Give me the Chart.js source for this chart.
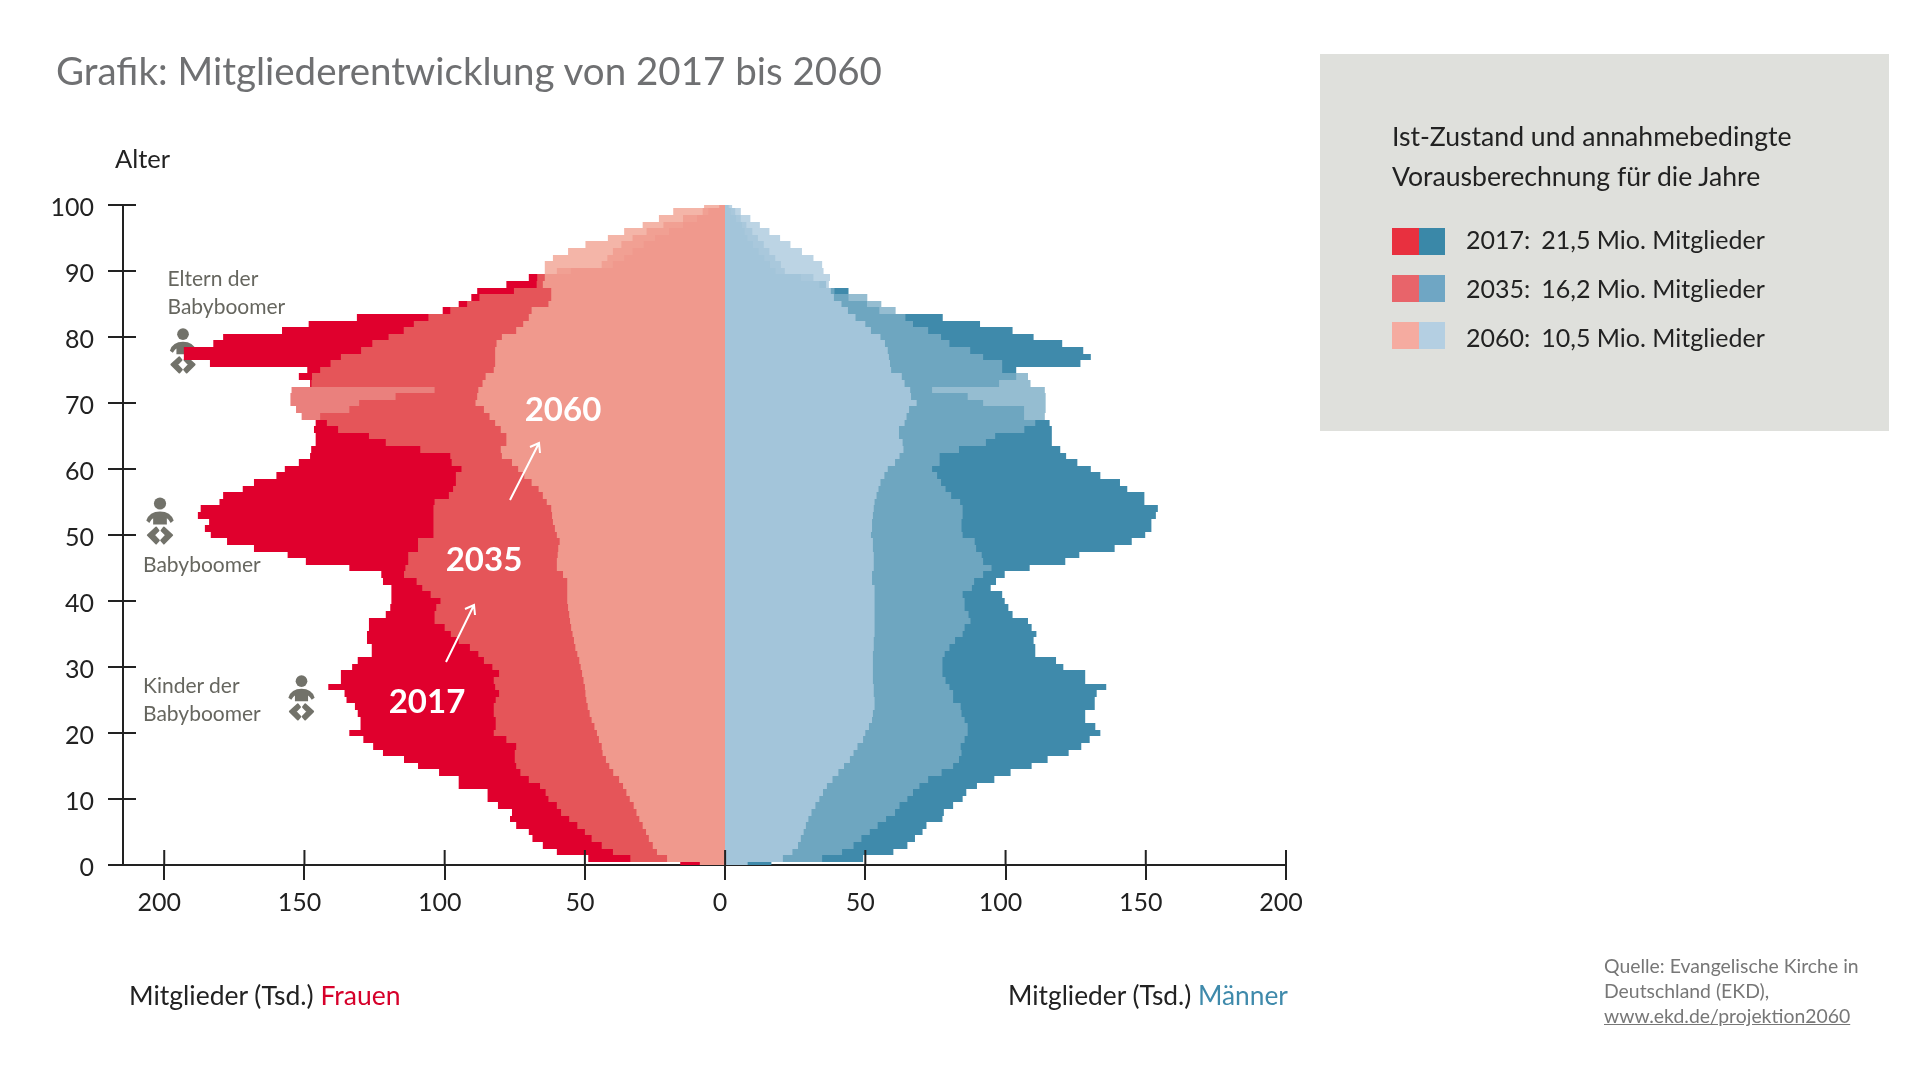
<!DOCTYPE html>
<html lang="de">
<head>
<meta charset="utf-8">
<title>Mitgliederentwicklung</title>
<script src="https://cdn.jsdelivr.net/npm/chart.js@4/dist/chart.umd.min.js"></script>
<style>
  html, body { margin: 0; background: #fff; }
  body { position: relative; width: 1920px; height: 1080px; overflow: hidden; font-family: "Lato", "Noto Sans", sans-serif; color: #222; }
  #pyramid { position: absolute; left: 0; top: 0; z-index: 2; }
  .t { position: absolute; white-space: nowrap; line-height: 1; z-index: 3; }
  .note { font-size: 21px; color: #66665f; }
  .year { font-size: 33px; font-weight: 700; color: #fff; transform: translate(-50%, -50%); }
  .baby { position: absolute; z-index: 1; fill: #72726a; stroke: #72726a; stroke-linejoin: round; }
  #arrows { position: absolute; left: 0; top: 0; z-index: 3; }
  #panel { position: absolute; left: 1320px; top: 54px; width: 569px; height: 377px; background: #dfe0dc; }
  .sw { position: absolute; width: 26.5px; height: 27px; z-index: 3; }
  .gap { display: inline-block; width: 11px; }
</style>
</head>
<body>
<div class="t" style="left:56px;top:51px;font-size:38.5px;color:#6f7072">Grafik: Mitgliederentwicklung von 2017 bis 2060</div>

<div id="panel"></div>
<div class="t" style="left:1392px;top:123px;font-size:26.6px">Ist-Zustand und annahmebedingte</div>
<div class="t" style="left:1392px;top:163px;font-size:26.6px">Vorausberechnung für die Jahre</div>
<div class="sw" style="left:1392px;top:228px;background:#e8303f"></div><div class="sw" style="left:1418.5px;top:228px;background:#3a88a8"></div>
<div class="sw" style="left:1392px;top:275px;background:#e8646a"></div><div class="sw" style="left:1418.5px;top:275px;background:#6fa6c4"></div>
<div class="sw" style="left:1392px;top:322px;background:#f5aba0"></div><div class="sw" style="left:1418.5px;top:322px;background:#b4cfe2"></div>
<div class="t" style="left:1466px;top:227px;font-size:25px">2017:<span class="gap"></span>21,5 Mio. Mitglieder</div>
<div class="t" style="left:1466px;top:276px;font-size:25px">2035:<span class="gap"></span>16,2 Mio. Mitglieder</div>
<div class="t" style="left:1466px;top:325px;font-size:25px">2060:<span class="gap"></span>10,5 Mio. Mitglieder</div>

<div class="t" style="left:115px;top:146px;font-size:25.5px">Alter</div>
<div class="t note" style="left:167.5px;top:267px">Eltern der</div>
<div class="t note" style="left:167.5px;top:295px">Babyboomer</div>
<div class="t note" style="left:143px;top:553px">Babyboomer</div>
<div class="t note" style="left:143px;top:674px">Kinder der</div>
<div class="t note" style="left:143px;top:702px">Babyboomer</div>

<svg class="baby" style="left:168px;top:328px" width="30" height="46" viewBox="0 0 40 63"><use href="#babyShape"/></svg>
<svg class="baby" style="left:144px;top:497px" width="32" height="48" viewBox="0 0 40 63"><use href="#babyShape"/></svg>
<svg class="baby" style="left:286px;top:675px" width="31" height="46" viewBox="0 0 40 63"><use href="#babyShape"/></svg>
<svg width="0" height="0" style="position:absolute"><defs><g id="babyShape">
  <circle cx="20" cy="8.5" r="8" stroke="none"/>
  <path stroke="none" d="M2 31 Q6 19 20 19 Q34 19 38 31 L34 34 Q31 29 29 28 L29 36 L11 36 L11 28 Q9 29 6 34 Z"/>
  <path stroke-width="2.5" d="M15 40 L4 50 L15 61 L18.5 57 L12 50 L18 44 Z"/>
  <path stroke-width="2.5" d="M25 40 L36 50 L25 61 L21.5 57 L28 50 L22 44 Z"/>
</g></defs></svg>

<canvas id="pyramid" width="1920" height="1080"></canvas>

<svg id="arrows" width="1920" height="1080" fill="none" stroke="#fff" stroke-width="2">
  <path d="M446 662 L474 605 M465 609 L474 605 L475 615"/>
  <path d="M510 500 L539 443 M530 447 L539 443 L540 453"/>
</svg>
<div class="t year" style="left:563px;top:408px">2060</div>
<div class="t year" style="left:484px;top:558px">2035</div>
<div class="t year" style="left:427px;top:700px">2017</div>

<div class="t" style="left:129px;top:982px;font-size:26.5px">Mitglieder (Tsd.) <span style="color:#d6002a">Frauen</span></div>
<div class="t" style="left:1008px;top:982px;font-size:26.3px">Mitglieder (Tsd.) <span style="color:#3f8aab">Männer</span></div>

<div class="t" style="left:1604px;top:956px;font-size:19.4px;color:#777">Quelle: Evangelische Kirche in</div>
<div class="t" style="left:1604px;top:981px;font-size:19.4px;color:#777">Deutschland (EKD),</div>
<div class="t" style="left:1604px;top:1006px;font-size:19.4px;color:#777;text-decoration:underline">www.ekd.de/projektion2060</div>

<script>
// Werte je Altersjahr 0..100, in Tsd.
const ages = [];
for (let a = 0; a <= 100; a++) ages.push(String(a));

const frauen2017 = [16, 48.8, 60, 65, 68.7, 70, 74.5, 76.7, 76, 81, 84.7, 84.7, 95, 95, 102, 109.5, 114.5, 122, 125.5, 129,
  134, 130, 130, 131, 132, 135, 135.7, 141.5, 137, 137, 133, 131, 126, 126, 127.7, 127.7, 127, 127, 121, 119.4,
  119, 119, 119, 122, 122.6, 134, 149.5, 156, 168, 177.6, 183.4, 185.5, 184, 188, 187, 180.3, 179, 172, 168, 160,
  157, 152, 148, 147.6, 146, 146, 146.6, 146, 144.4, 134, 130.5, 117.5, 103.6, 148, 152, 149, 183.7, 193, 193, 182.5,
  179, 158, 148.5, 131.3, 100.7, 95, 90.5, 88.4, 78, 70, 55, 40, 36, 33, 29, 25, 20, 15, 10, 6, 2];
const frauen2035 = [9, 33.8, 40, 44, 47.6, 50, 52.7, 55.6, 58.5, 60, 63, 64, 66, 70, 73, 74.5, 75, 75, 74.5, 78,
  82.5, 81.8, 81.8, 82.5, 82.5, 81.8, 80.6, 82, 82.5, 80.6, 83, 86, 88, 91, 95, 97.8, 100, 103.6, 103.6, 103,
  101.5, 105, 108, 110, 114.5, 114, 113, 113, 109.5, 109.5, 104, 104, 104, 104, 104, 103.6, 98.5, 97, 96, 96,
  94, 97.5, 98, 108.7, 121, 127, 138, 142, 151, 153, 155, 155, 154.6, 147.5, 147.3, 144.4, 140.7, 137, 129.8, 125.8,
  120, 114.6, 111, 105.8, 98, 92, 87.6, 75.3, 67.2, 67, 60, 44, 42, 40, 37, 33, 28, 22, 15, 8, 2];
const frauen2060 = [9, 20.7, 24.3, 25.8, 27.2, 28.2, 29.4, 30.6, 31.6, 32.6, 34, 35.2, 36.4, 37.8, 39.9, 41.3, 42.5, 43.7, 44, 45,
  45.7, 46.6, 47.6, 48.3, 49, 49.5, 49.8, 50, 50.5, 51, 51.5, 52, 52.7, 53.4, 53.9, 54.4, 54.9, 55.3, 55.6, 56,
  56.3, 56.3, 56.3, 56.3, 57.8, 60, 60, 59.7, 59.5, 59, 60, 60.7, 61.4, 61.7, 62, 63.6, 65, 66.5, 69, 71.6,
  73.8, 76, 79.6, 80, 78, 78, 80, 82, 84, 86, 89, 88.4, 88, 86.5, 85.4, 82.5, 82, 82, 82, 81.5,
  79.6, 74.5, 72, 70, 69, 63, 62, 62, 65, 64.3, 64.3, 64.3, 61.4, 56, 49.8, 41.8, 36, 29.4, 23.6, 18.5, 7.5];

const maenner2017 = [16.5, 49.2, 60, 65, 67.7, 70.4, 71.8, 77.5, 78, 81.3, 84.7, 86, 89.8, 96, 101.8, 109.3, 115, 122.5, 127, 130,
  133.8, 132, 128.4, 128.4, 131.8, 131.8, 132.5, 135.9, 128.4, 128.4, 120.6, 118, 110.6, 110.6, 110, 111, 109.3, 108, 102.5, 101,
  99.7, 98.8, 94.7, 96.6, 99.7, 108.6, 121.3, 126.3, 138.9, 145, 149.8, 152, 152, 153.6, 154.3, 149.5, 149.5, 143.4, 140.8, 133.8,
  130.4, 125.6, 121.6, 119.5, 116.5, 116.5, 116.5, 115.7, 106.6, 106.6, 92, 86.5, 73.8, 97.7, 103.8, 103.8, 126.7, 130.4, 127.7, 120.2,
  110, 102.5, 90.9, 77.6, 55, 50.6, 44, 44, 36, 27, 18, 16, 14, 12, 10, 8, 7, 6, 4, 2, 1];
const maenner2035 = [8, 34.6, 41.7, 45.8, 48.6, 51.6, 54.4, 57.4, 60.6, 62.2, 65, 67, 69.3, 72.4, 77.2, 81.3, 83.4, 84.3, 84, 85.4,
  86.5, 86.5, 85.4, 84.3, 84, 81.3, 81.3, 80, 78.6, 77.5, 77.5, 77.5, 78.3, 80, 82, 84.7, 85.4, 87.5, 86.8, 85.4,
  85.4, 84.7, 88, 88.8, 92, 95, 92, 91.5, 89.5, 89, 84.7, 84.3, 84.3, 84.7, 84.7, 83.8, 80.6, 78.6, 77, 75.6,
  73.8, 76.5, 76.5, 83.4, 93, 96.3, 106.7, 110.6, 114, 114.3, 114.3, 114.3, 114, 108.9, 108, 98.8, 98.8, 92, 87.4, 80,
  77, 72.4, 67, 64.3, 60.8, 55.7, 50.7, 39, 33.6, 31.5, 21.3, 19.9, 17.9, 15.8, 13.8, 11.7, 9.7, 7.6, 5.6, 3.6, 1.5];
const maenner2060 = [8, 20.6, 24, 26, 27, 28, 28.8, 29.7, 30.8, 32.2, 33.6, 34.9, 36.3, 38.3, 40.4, 42.4, 44.5, 45.8, 47.2, 49.2,
  50, 51.3, 52.4, 52.7, 53.3, 53.3, 53, 53, 52.7, 52.7, 52.7, 52.7, 52.7, 53, 53, 53.3, 53.3, 53.3, 53.3, 53.3,
  53.3, 53.3, 53.3, 52.4, 52.4, 53, 53, 53, 52.7, 52.7, 52, 52.4, 52.4, 52.7, 53, 53.3, 54, 54.7, 55.4, 56.8,
  58, 60.6, 62.2, 63.6, 63.3, 62, 62, 64, 64.7, 65.6, 68.3, 66.3, 66, 64, 63, 59.2, 58.8, 58.4, 58, 57,
  55.4, 52, 50, 46.5, 43.8, 41.5, 38.8, 37.7, 37, 37.4, 35.1, 34.6, 31.5, 27.4, 23.3, 19.6, 15.8, 12.4, 9, 5.6, 2.5];

const xTicks = [-200, -150, -100, -50, 0, 50, 100, 150, 200];

// Ebenen sind halbtransparent, damit 2035/2060 ueber 2017 dunkler wirken
const rot2017 = '#e0002d';
const rot2035 = 'rgba(230,102,99,0.83)';
const rot2060 = 'rgba(242,167,151,0.84)';
const blau2017 = '#3f8aab';
const blau2035 = 'rgba(123,173,197,0.8)';
const blau2060 = 'rgba(175,203,222,0.83)';

function negate(list) { return list.map(v => -v); }

// Zeilen auf ganze Pixel legen, sonst entstehen Streifen zwischen den transparenten Balken.
// Das +0.01 faengt Rundungsfehler bei x.5 ab, sonst bleiben weisse Luecken.
// Chart.js laesst an der Basis Platz fuer die Gitterlinie, daher Basis auf die Null zuruecksetzen.
const snapRows = {
  id: 'snapRows',
  beforeDatasetsDraw(chart) {
    const zero = Math.round(chart.scales.x.getPixelForValue(0));
    chart.getSortedVisibleDatasetMetas().forEach(meta => {
      meta.data.forEach(bar => {
        const top = Math.round(bar.y - bar.height / 2 + 0.01);
        const bottom = Math.round(bar.y + bar.height / 2 + 0.01);
        bar.y = (top + bottom) / 2;
        bar.height = bottom - top;
        bar.base = zero;
      });
    });
  }
};

// Die Teilstriche gehen im Original durch die Achse hindurch
const innerTicks = {
  id: 'innerTicks',
  afterDatasetsDraw(chart) {
    const { ctx, scales: { x, y } } = chart;
    ctx.save();
    ctx.strokeStyle = '#222';
    ctx.lineWidth = 2;
    ctx.beginPath();
    x.ticks.forEach((t, i) => {
      const px = x.getPixelForTick(i);
      ctx.moveTo(px, x.top);
      ctx.lineTo(px, x.top - 15);
    });
    y.ticks.forEach((t, i) => {
      const py = y.getPixelForTick(i);
      ctx.moveTo(y.right, py);
      ctx.lineTo(y.right + 13, py);
    });
    ctx.stroke();
    ctx.restore();
  }
};

const tickFont = { family: 'Lato, "Noto Sans", sans-serif', size: 25 };

new Chart(document.getElementById('pyramid'), {
  type: 'bar',
  data: {
    labels: ages,
    // erster Datensatz liegt in Chart.js oben
    datasets: [
      { label: 'Frauen 2060', data: negate(frauen2060), backgroundColor: rot2060 },
      { label: 'Männer 2060', data: maenner2060, backgroundColor: blau2060 },
      { label: 'Frauen 2035', data: negate(frauen2035), backgroundColor: rot2035 },
      { label: 'Männer 2035', data: maenner2035, backgroundColor: blau2035 },
      { label: 'Frauen 2017', data: negate(frauen2017), backgroundColor: rot2017 },
      { label: 'Männer 2017', data: maenner2017, backgroundColor: blau2017 }
    ]
  },
  options: {
    indexAxis: 'y',
    responsive: false,
    animation: false,
    grouped: false,
    categoryPercentage: 1,
    barPercentage: 1,
    inflateAmount: 0,
    layout: { padding: { top: 205, right: 634, left: 0, bottom: 0 } },
    plugins: { legend: { display: false }, tooltip: { enabled: false } },
    scales: {
      x: {
        type: 'linear',
        min: -214.7,
        max: 200,
        afterBuildTicks(scale) { scale.ticks = xTicks.map(v => ({ value: v })); },
        afterFit(scale) { scale.height = 215; },
        border: { color: '#222', width: 2 },
        grid: { drawOnChartArea: false, color: '#222', lineWidth: 2, tickLength: 15 },
        ticks: {
          includeBounds: false,
          color: '#222',
          font: tickFont,
          padding: 8,
          labelOffset: -5,
          maxRotation: 0,
          callback: v => String(Math.abs(v))
        }
      },
      y: {
        type: 'category',
        reverse: true,
        offset: false,
        afterBuildTicks(scale) { scale.ticks = scale.ticks.filter(t => t.value % 10 === 0); },
        afterFit(scale) { scale.width = 123; },
        border: { color: '#222', width: 2 },
        grid: { offset: false, drawOnChartArea: false, color: '#222', lineWidth: 2, tickLength: 15 },
        ticks: { autoSkip: false, color: '#222', font: tickFont, padding: 14, labelOffset: 3 }
      }
    }
  },
  plugins: [snapRows, innerTicks]
});
</script>
</body>
</html>
